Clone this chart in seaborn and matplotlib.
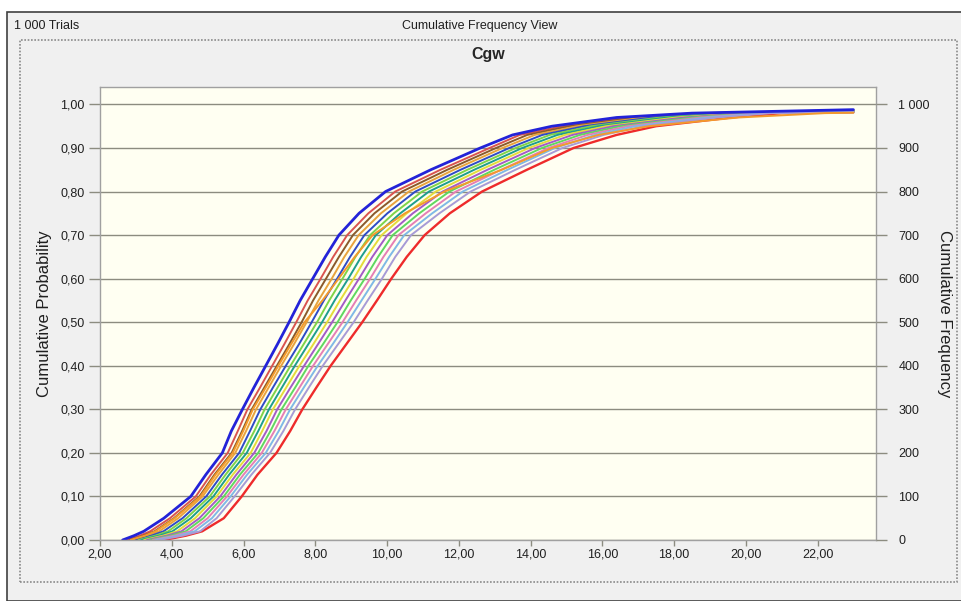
import numpy as np
import pandas as pd
import matplotlib
matplotlib.use("Agg")
import matplotlib.pyplot as plt
from matplotlib.patches import Rectangle
from matplotlib.ticker import FuncFormatter
import seaborn as sns

sns.set_theme(style="white")
plt.rcParams['font.family'] = ['Liberation Sans', 'DejaVu Sans']

# ==========================================
# DATA (x value of each trial curve at the given cumulative probability,
# read off the reference picture)
# ==========================================
p_levels = [0.00, 0.01, 0.02, 0.05, 0.10, 0.15, 0.20, 0.25, 0.30, 0.35, 0.40, 0.45, 0.50,
            0.55, 0.60, 0.65, 0.70, 0.75, 0.80, 0.85, 0.90, 0.93, 0.95, 0.97, 0.98]
x_end = 23.0

blue_x   = [2.63, 2.95, 3.22, 3.78, 4.53, 4.95, 5.41, 5.66, 5.97, 6.29, 6.62, 6.95, 7.27,
            7.58, 7.93, 8.28, 8.66, 9.22, 9.96, 11.22, 12.60, 13.50, 14.60, 16.40, 18.50]
red_x    = [3.78, 4.40, 4.85, 5.45, 5.95, 6.39, 6.92, 7.30, 7.64, 8.03, 8.43, 8.87, 9.31,
            9.72, 10.12, 10.55, 11.05, 11.75, 12.65, 13.90, 15.20, 16.40, 17.50, 19.60, 21.00]
c01_x = [2.75, 3.11, 3.40, 3.95, 4.67, 5.09, 5.56, 5.84, 6.11, 6.46, 6.80, 7.14, 7.47,
         7.79, 8.15, 8.50, 8.89, 9.48, 10.23, 11.49, 12.86, 13.70, 14.89, 16.72, 18.75]
c02_x = [2.83, 3.21, 3.52, 4.06, 4.77, 5.19, 5.67, 5.96, 6.23, 6.58, 6.93, 7.28, 7.62,
         7.94, 8.30, 8.66, 9.05, 9.65, 10.42, 11.68, 13.04, 13.91, 15.09, 16.94, 18.93]
c03_x = [2.91, 3.32, 3.65, 4.18, 4.86, 5.30, 5.77, 6.07, 6.35, 6.70, 7.05, 7.41, 7.76,
         8.09, 8.46, 8.81, 9.21, 9.83, 10.61, 11.86, 13.22, 14.12, 15.30, 17.17, 19.10]
c04_x = [2.99, 3.43, 3.77, 4.30, 4.96, 5.40, 5.88, 6.18, 6.47, 6.82, 7.18, 7.55, 7.90,
         8.24, 8.61, 8.97, 9.37, 10.01, 10.79, 12.05, 13.41, 14.33, 15.50, 17.39, 19.28]
c05_x = [3.07, 3.54, 3.90, 4.41, 5.06, 5.50, 5.98, 6.30, 6.59, 6.95, 7.31, 7.68, 8.05,
         8.39, 8.76, 9.12, 9.53, 10.19, 10.98, 12.24, 13.59, 14.54, 15.70, 17.62, 19.45]
c06_x = [3.15, 3.65, 4.02, 4.53, 5.16, 5.60, 6.09, 6.41, 6.71, 7.07, 7.43, 7.81, 8.19,
         8.54, 8.92, 9.28, 9.69, 10.37, 11.17, 12.43, 13.77, 14.75, 15.91, 17.84, 19.63]
c07_x = [3.23, 3.76, 4.15, 4.65, 5.25, 5.70, 6.20, 6.52, 6.82, 7.19, 7.56, 7.95, 8.33,
         8.69, 9.07, 9.43, 9.85, 10.55, 11.36, 12.61, 13.95, 14.96, 16.11, 18.06, 19.80]
c08_x = [3.31, 3.86, 4.27, 4.77, 5.35, 5.80, 6.30, 6.64, 6.94, 7.31, 7.69, 8.08, 8.47,
         8.84, 9.22, 9.59, 10.01, 10.72, 11.55, 12.80, 14.13, 15.17, 16.31, 18.29, 19.98]
c09_x = [3.39, 3.97, 4.39, 4.88, 5.45, 5.90, 6.41, 6.75, 7.06, 7.44, 7.81, 8.22, 8.62,
         8.99, 9.38, 9.75, 10.16, 10.90, 11.74, 12.99, 14.32, 15.38, 16.51, 18.51, 20.15]
c10_x = [3.47, 4.08, 4.52, 5.00, 5.54, 6.00, 6.51, 6.86, 7.18, 7.56, 7.94, 8.35, 8.76,
         9.14, 9.53, 9.90, 10.32, 11.08, 11.92, 13.18, 14.50, 15.59, 16.72, 18.74, 20.33]
c11_x = [3.55, 4.19, 4.64, 5.12, 5.64, 6.10, 6.62, 6.98, 7.30, 7.68, 8.07, 8.49, 8.90,
         9.29, 9.68, 10.06, 10.48, 11.26, 12.11, 13.36, 14.68, 15.80, 16.92, 18.96, 20.50]
c12_x = [3.64, 4.31, 4.79, 5.25, 5.75, 6.22, 6.74, 7.11, 7.44, 7.82, 8.21, 8.64, 9.07,
         9.46, 9.86, 10.23, 10.67, 11.46, 12.33, 13.58, 14.89, 16.04, 17.15, 19.22, 20.70]
c13_x = [2.85, 3.25, 3.55, 4.08, 4.80, 5.22, 5.70, 5.99, 6.26, 6.62, 6.97, 7.33, 7.70,
         8.20, 8.65, 9.10, 9.60, 10.50, 11.60, 13.20, 14.60, 15.90, 17.30, 19.80, 22.20]

trial_x = [c01_x, c02_x, c03_x, c04_x, c05_x, c06_x, c07_x, c08_x, c09_x, c10_x, c11_x, c12_x, c13_x]
trial_end = [0.987, 0.986, 0.986, 0.985, 0.985, 0.984, 0.984, 0.983, 0.983, 0.982, 0.982, 0.982, 0.981]
trial_colors = ['#D9534F', '#8B5A2B', '#E8A33D', '#2E4BC6', '#7ED348', '#1E9E8E', '#E4DC3A',
                '#A35BC7', '#5FD85F', '#E57FB5', '#7FB9E6', '#A79BD6', '#F39A2C']
blue_end = 0.988
red_end = 0.982

y_ticks = [0.0, 0.1, 0.2, 0.3, 0.4, 0.5, 0.6, 0.7, 0.8, 0.9, 1.0]
x_ticks = [2, 4, 6, 8, 10, 12, 14, 16, 18, 20, 22]
n_trials = 1000


def make_frame(name, xs, p_end):
    return pd.DataFrame({'trial': name,
                         'x': list(xs) + [x_end],
                         'p': list(p_levels) + [p_end]})


df = pd.concat([make_frame(f"t{i}", xs, e) for i, (xs, e) in enumerate(zip(trial_x, trial_end))],
               ignore_index=True)
df_blue = make_frame('blue', blue_x, blue_end)
df_red = make_frame('red', red_x, red_end)

# ==========================================
# FIGURE
# ==========================================
fig = plt.figure(figsize=(9.62, 6.01), dpi=100, facecolor='white')
W, H = 962, 601

# window panel (behind the axes)
fig.patches.append(Rectangle((7 / W, 0), 1 - 7 / W, 1 - 12 / H, transform=fig.transFigure,
                             facecolor='#F0F0F0', edgecolor='#404040', linewidth=1.2, zorder=-10))
fig.patches.append(Rectangle((20 / W, (H - 582) / H), (957 - 20) / W, (582 - 40) / H,
                             transform=fig.transFigure, facecolor='none', edgecolor='#8A8A8A',
                             linestyle=(0, (1, 1)), linewidth=1.2, zorder=-9))
fig.text(14 / W, 1 - 26 / H, '1 000 Trials', fontsize=9, ha='left', va='center', color='#202020')
fig.text(480 / W, 1 - 26 / H, 'Cumulative Frequency View', fontsize=9, ha='center', va='center',
         color='#202020')
fig.text(488 / W, 1 - 54 / H, 'Cgw', fontsize=11.5, fontweight='bold', ha='center', va='center')

ax = fig.add_axes([100 / W, (H - 540) / H, 776 / W, 453 / H])
ax.set_facecolor('#FFFFF2')

sns.lineplot(data=df_red, x='x', y='p', color='#EE2B2B', estimator=None, sort=False,
             linewidth=1.7, ax=ax)
sns.lineplot(data=df, x='x', y='p', hue='trial', palette=trial_colors, estimator=None,
             sort=False, legend=False, linewidth=1.4, ax=ax)
sns.lineplot(data=df_blue, x='x', y='p', color='#2323D8', estimator=None, sort=False,
             linewidth=2.0, ax=ax)

ax.set_xlim(2.0, 23.63)
ax.set_ylim(0, 1.04)
ax.set_xticks(x_ticks)
ax.set_yticks(y_ticks)
ax.xaxis.set_major_formatter(FuncFormatter(lambda v, _: f"{v:.2f}".replace('.', ',')))
ax.yaxis.set_major_formatter(FuncFormatter(lambda v, _: f"{v:.2f}".replace('.', ',')))
ax.grid(axis='y', color='#8C8C80', linewidth=1.0)
ax.grid(axis='x', visible=False)
ax.set_axisbelow(True)
ax.tick_params(axis='y', length=8, width=1, color='#8C8C80', labelsize=9, labelcolor='#202020', pad=3)
ax.tick_params(axis='x', length=4, width=1, color='#8C8C80', labelsize=9, labelcolor='#202020', pad=2,
               bottom=True)
for s in ax.spines.values():
    s.set_color('#A0A0A0')
    s.set_linewidth(1.0)
ax.set_xlabel('')
ax.set_ylabel('Cumulative Probability', fontsize=12, color='#202020', labelpad=6)

ax2 = ax.twinx()
ax2.set_ylim(0, 1.04 * n_trials)
ax2.set_yticks([v * n_trials for v in y_ticks])
ax2.yaxis.set_major_formatter(FuncFormatter(lambda v, _: f"{int(v):,}".replace(',', ' ')))
ax2.tick_params(axis='y', length=8, width=1, color='#8C8C80', labelsize=9, labelcolor='#202020', pad=8)
for s in ax2.spines.values():
    s.set_visible(False)
ax2.set_ylabel('Cumulative Frequency', fontsize=12, color='#202020', rotation=270, labelpad=16)

fig.savefig('out.png', dpi=100, facecolor=fig.get_facecolor())
